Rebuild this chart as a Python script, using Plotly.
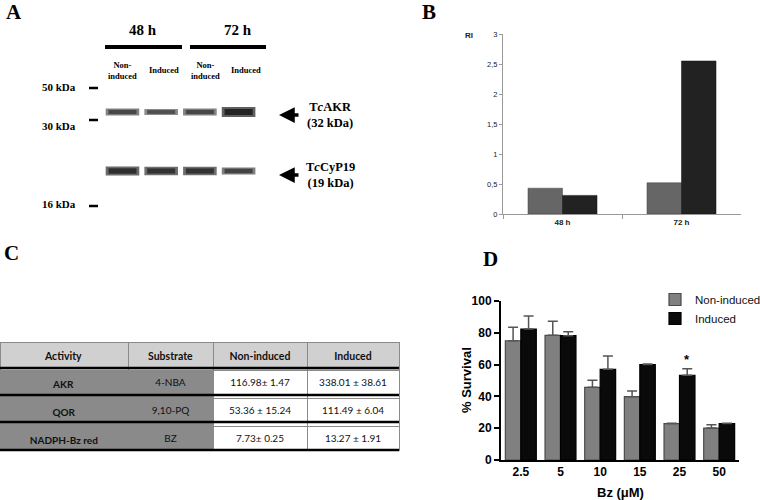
import plotly.graph_objects as go

W, H = 760, 500
def px(x): return x / W
def py(y): return 1 - y / H

# ---------------- data ----------------
# Panel A (western blot, relative band intensity)
lanes = ["48h Non-induced", "48h Induced", "72h Non-induced", "72h Induced"]
lane_labels = ["Non-<br>induced", "Induced", "Non-<br>induced", "Induced"]
band_rows = ["TcAKR", "TcCyP19"]
akr_intensity = [0.55, 0.45, 0.55, 1.0]
cyp_intensity = [0.85, 0.8, 0.8, 0.6]

# Panel B
b_categories = ["48 h", "72 h"]
b_noninduced = [0.43, 0.52]
b_induced = [0.31, 2.55]
b_ticks = [0, 0.5, 1, 1.5, 2, 2.5, 3]
b_ticktext = ["0", "0,5", "1", "1,5", "2", "2,5", "3"]

# Panel C
c_header = ["Activity", "Substrate", "Non-induced", "Induced"]
c_activity = ["AKR", "QOR", "NADPH-Bz red"]
c_substrate = ["4-NBA", "9,10-PQ", "BZ"]
c_noninduced = ["116.98± 1.47", "53.36 ± 15.24", "7.73± 0.25"]
c_induced = ["338.01 ± 38.61", "111.49 ± 6.04", "13.27 ± 1.91"]

# Panel D
d_conc = ["2.5", "5", "10", "15", "25", "50"]
d_noninduced = [75, 78.4, 45.7, 39.8, 22.9, 20.1]
d_noninduced_err = [8.5, 8.8, 4.4, 3.6, 0.2, 2.1]
d_induced = [82.4, 78.2, 57.0, 60.0, 53.3, 22.9]
d_induced_err = [8.2, 2.5, 8.4, 0.4, 4.1, 0.2]
d_significant = [False, False, False, False, True, False]

fig = go.Figure()

# ---------------- Panel A: blot bands ----------------
for row, intens in [("TcAKR", akr_intensity), ("TcCyP19", cyp_intensity)]:
    for lane, v in zip(lanes, intens):
        g_out = int(175 - 80 * v)
        g_in = int(115 - 80 * v)
        for g, w, s in [(g_out, 3 + 7 * v, 24), (g_in, 2 + 4 * v, 20)]:
            fig.add_trace(go.Scatter(
                x=[lane], y=[row], mode="markers",
                marker=dict(symbol="line-ew", size=s, line=dict(color=f"rgb({g},{g},{g})", width=w)),
                xaxis="x3", yaxis="y3", showlegend=False, hoverinfo="skip"))

# ---------------- Panel B ----------------
bw_b = 0.29
fig.add_trace(go.Bar(x=b_categories, y=b_noninduced, width=bw_b, offset=-bw_b,
                     marker=dict(color="#666666", line=dict(color="#444444", width=0.5)),
                     xaxis="x", yaxis="y", showlegend=False))
fig.add_trace(go.Bar(x=b_categories, y=b_induced, width=bw_b, offset=0,
                     marker=dict(color="#222222", line=dict(color="#111111", width=0.5)),
                     xaxis="x", yaxis="y", showlegend=False))

# ---------------- Panel D ----------------
bw_d = 0.39
fig.add_trace(go.Bar(x=d_conc, y=d_noninduced, name="Non-induced", width=bw_d, offset=-bw_d,
                     marker=dict(color="#808080", line=dict(color="#4a4a4a", width=1.2)),
                     error_y=dict(type="data", array=d_noninduced_err, arrayminus=[0]*6, symmetric=False,
                                  color="#555555", thickness=1.5, width=5),
                     xaxis="x2", yaxis="y2"))
fig.add_trace(go.Bar(x=d_conc, y=d_induced, name="Induced", width=bw_d, offset=0,
                     marker=dict(color="#0a0a0a", line=dict(color="#000000", width=1.2)),
                     error_y=dict(type="data", array=d_induced_err, arrayminus=[0]*6, symmetric=False,
                                  color="#555555", thickness=1.5, width=5),
                     xaxis="x2", yaxis="y2"))

# ---------------- Panel C: table ----------------
body_dark = "#8a8a8a"
fig.add_trace(go.Table(
    domain=dict(x=[0, px(399)], y=[py(452), py(342)]),
    columnwidth=[128, 85, 94, 92],
    header=dict(values=[f"<b>{h}</b>" for h in c_header], fill_color="#d0d0d0",
                line=dict(color="#8a8a8a", width=1), height=26,
                font=dict(family="Lato", size=10.5, color="#111"), align="center"),
    cells=dict(values=[[f"<b>{a}</b>" for a in c_activity], c_substrate, c_noninduced, c_induced],
               fill_color=[[body_dark]*3, [body_dark]*3, ["white"]*3, ["white"]*3],
               line=dict(color="#8a8a8a", width=1), height=27,
               font=dict(family="Lato", size=10, color="#111"), align="center")))

shapes = []
for yy in [368, 395, 422, 450]:
    shapes.append(dict(type="line", xref="paper", yref="paper", x0=0, x1=px(399), y0=py(yy), y1=py(yy),
                       line=dict(color="black", width=2.5)))

# Panel A decorations
for x0, x1 in [(105, 182), (190, 266)]:
    shapes.append(dict(type="line", xref="paper", yref="paper", x0=px(x0), x1=px(x1), y0=py(47), y1=py(47),
                       line=dict(color="black", width=4)))
for yy in [88, 120, 206]:
    shapes.append(dict(type="line", xref="paper", yref="paper", x0=px(89), x1=px(98), y0=py(yy), y1=py(yy),
                       line=dict(color="black", width=2.5)))

serif = "Liberation Serif"
ann = []
def T(text, x, y, size, family=serif, xanchor="center", color="black", textangle=0):
    ann.append(dict(text=text, x=px(x), y=py(y), xref="paper", yref="paper", showarrow=False,
                    xanchor=xanchor, yanchor="middle", textangle=textangle,
                    font=dict(family=family, size=size, color=color)))

T("<b>A</b>", 4, 12, 21, xanchor="left")
T("<b>B</b>", 420, 12, 21, xanchor="left")
T("<b>C</b>", 2, 253, 21, xanchor="left")
T("<b>D</b>", 481, 259, 21, xanchor="left")

T("<b>48 h</b>", 143, 30, 15)
T("<b>72 h</b>", 238, 30, 15)
for lab, xc in zip(lane_labels, [122, 164, 205, 246]):
    T(f"<b>{lab}</b>", xc, 70, 8.5)
T("<b>50 kDa</b>", 78, 87, 11, xanchor="right")
T("<b>30 kDa</b>", 78, 126, 11, xanchor="right")
T("<b>16 kDa</b>", 78, 204, 11, xanchor="right")
T("<b>T<i>c</i>AKR<br>(32 kDa)</b>", 330, 115, 12.5)
T("<b>T<i>c</i>CyP19<br>(19 kDa)</b>", 330, 175, 12.5)
for yy in [115, 175]:
    ann.append(dict(text="", x=px(279), y=py(yy), xref="paper", yref="paper", ax=21, ay=0,
                    axref="pixel", ayref="pixel", showarrow=True, arrowhead=2, arrowsize=0.9,
                    arrowwidth=3.5, arrowcolor="black"))

T("<b>RI</b>", 469, 35, 8, family="Liberation Sans", color="#222")
T("<b>% Survival</b>", 466, 380, 13, family="Liberation Sans", textangle=-90)
T("<b>Bz (μM)</b>", 620, 492, 13, family="Liberation Sans")

# significance marker above the induced bar (data coordinates)
for i, sig in enumerate(d_significant):
    if sig:
        ann.append(dict(text="<b>*</b>", x=i + bw_d / 2, y=d_induced[i] + d_induced_err[i],
                        xref="x2", yref="y2", showarrow=False, xanchor="center", yanchor="bottom",
                        font=dict(family="Liberation Sans", size=13, color="black")))

fig.update_layout(
    template="none",
    width=W, height=H, margin=dict(l=0, r=0, t=0, b=0, autoexpand=False),
    paper_bgcolor="white", plot_bgcolor="white",
    barmode="overlay",
    shapes=shapes, annotations=ann,
    showlegend=True,
    legend=dict(x=px(655), y=py(285), xanchor="left", yanchor="top", bgcolor="rgba(0,0,0,0)",
                font=dict(family="Liberation Sans", size=11.5, color="#111"), tracegroupgap=2,
                itemwidth=30),
    xaxis=dict(domain=[px(503), px(741)], range=[-0.5, 1.5], type="category", tickson="boundaries",
               anchor="y", automargin=False,
               showline=True, linecolor="#999999", linewidth=1, ticks="outside", ticklen=4, tickcolor="#999999",
               tickfont=dict(family="Liberation Sans", size=8, color="#222"), showgrid=False, zeroline=False),
    yaxis=dict(domain=[py(214), py(34)], range=[0, 3], tickvals=b_ticks, ticktext=b_ticktext,
               anchor="x", automargin=False,
               showline=True, linecolor="#999999", linewidth=1, ticks="outside", ticklen=3, tickcolor="#999999",
               tickfont=dict(family="Liberation Sans", size=7.5, color="#222"), showgrid=False, zeroline=False),
    xaxis2=dict(domain=[px(501), px(739)], range=[-0.5, 5.5], type="category",
                anchor="y2", automargin=False,
                showline=True, linecolor="black", linewidth=2, ticks="",
                tickfont=dict(family="Liberation Sans", size=12, color="black"), showgrid=False, zeroline=False),
    yaxis2=dict(domain=[py(460), py(301)], range=[0, 100], dtick=20,
                anchor="x2", automargin=False,
                showline=True, linecolor="black", linewidth=2, ticks="outside", ticklen=5, tickwidth=2,
                tickcolor="black", tickfont=dict(family="Liberation Sans", size=12, color="black"),
                showgrid=False, zeroline=False),
    xaxis3=dict(domain=[0, px(380)], range=[-3.165, 6.654], type="category", categoryarray=lanes,
                categoryorder="array", visible=False, fixedrange=True, anchor="y3", automargin=False),
    yaxis3=dict(domain=[py(230), 1], range=[2.0, -1.898], type="category", categoryarray=band_rows,
                categoryorder="array", visible=False, fixedrange=True, anchor="x3", automargin=False),
)
for ax in ["xaxis", "yaxis", "xaxis2", "yaxis2"]:
    fig.layout[ax].tickprefix = "<b>"
    fig.layout[ax].ticksuffix = "</b>"

fig.write_html("out.html", config={"displayModeBar": False},
               post_script="document.body.style.margin='0';document.body.style.overflow='hidden';")
